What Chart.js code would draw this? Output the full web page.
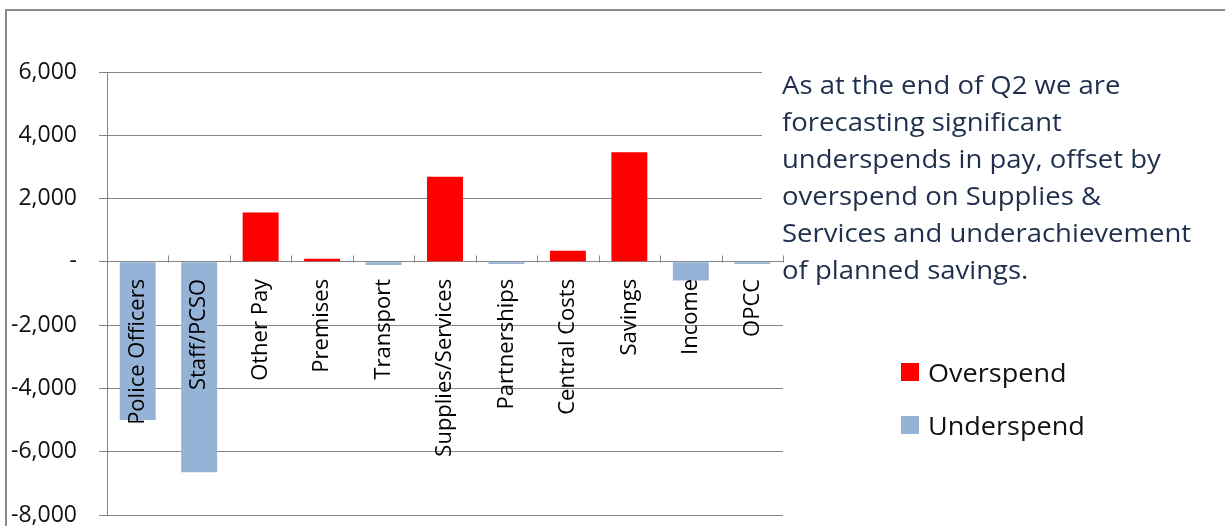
<!DOCTYPE html>
<html>
<head>
<meta charset="utf-8">
<script src="https://cdn.jsdelivr.net/npm/chart.js@4.4.1/dist/chart.umd.min.js"></script>
<style>
  html, body { margin: 0; padding: 0; background: #fff; }
  #wrap { position: relative; width: 1225px; height: 526px; overflow: hidden; }
  #frame { position: absolute; left: 5px; top: 9px; width: 1300px; height: 600px; border: 2px solid #8a8a8a; box-sizing: border-box; }
  canvas { position: absolute; left: 0; top: 0; }
  #note {
    position: absolute; left: 762px; top: 60px; width: 460px; height: 180px;
    padding-left: 20px; background: #fff; box-sizing: border-box;
    font-family: "Open Sans", sans-serif; font-size: 25px; line-height: 37px;
    color: #1f2f4d; white-space: nowrap;
  }
  #note .txt { position: relative; top: 6px; transform: scaleX(1.1); transform-origin: left top; }
  #legend { position: absolute; left: 901px; top: 355px; font-family: "Open Sans", sans-serif; font-size: 26px; color: #111; }
  #legend .item { display: flex; align-items: center; height: 34px; margin-bottom: 19px; }
  #legend .box { width: 18px; height: 18px; margin-right: 9px; }
  #legend .lbl { display: inline-block; transform: scaleX(1.04); transform-origin: left center; }
</style>
</head>
<body>
<div id="wrap">
  <div id="frame"></div>
  <canvas id="varianceChart" width="1225" height="526"></canvas>
  <div id="note"><div class="txt">As at the end of Q2 we are<br>forecasting significant<br>underspends in pay, offset by<br>overspend on Supplies &amp;<br>Services and underachievement<br>of planned savings.</div></div>
  <div id="legend"></div>
</div>
<script>
const categories = ["Police Officers", "Staff/PCSO", "Other Pay", "Premises", "Transport",
    "Supplies/Services", "Partnerships", "Central Costs", "Savings", "Income", "OPCC"];
const overspend = [null, null, 1560, 100, null, 2690, null, 350, 3460, null, null];
const underspend = [-5000, -6650, null, null, -100, null, -70, null, null, -590, -70];
const yTicks = [-8000, -6000, -4000, -2000, 0, 2000, 4000, 6000];

const gridColor = "#868686";

// small upward tick marks between categories on the zero line
const zeroTicks = {
    id: "zeroTicks",
    afterDatasetsDraw(chart) {
        const x = chart.scales.x, y = chart.scales.y;
        const ctx = chart.ctx;
        const y0 = Math.round(y.getPixelForValue(0)) + 0.5;
        const step = x.getPixelForValue(1) - x.getPixelForValue(0);
        ctx.save();
        ctx.strokeStyle = gridColor;
        ctx.lineWidth = 1;
        ctx.beginPath();
        for (let i = 0; i < categories.length; i++) {
            const px = Math.round(x.getPixelForValue(i) + step / 2) + 0.5;
            ctx.moveTo(px, y0);
            ctx.lineTo(px, y0 - 7);
        }
        ctx.stroke();
        ctx.restore();
    }
};

const ctx = document.getElementById("varianceChart").getContext("2d");

const chart = new Chart(ctx, {
    type: "bar",
    data: {
        labels: categories,
        datasets: [
            { label: "Overspend", data: overspend, backgroundColor: "#ff0000" },
            { label: "Underspend", data: underspend, backgroundColor: "#95b3d7" }
        ]
    },
    options: {
        responsive: false,
        animation: false,
        events: [],
        layout: { padding: { left: 0, top: 72, right: 442, bottom: 11 } },
        datasets: { bar: { barPercentage: 0.585, categoryPercentage: 1 } },
        plugins: {
            legend: { display: false },
            tooltip: { enabled: false }
        },
        scales: {
            x: {
                stacked: true,
                position: { y: 0 },
                grid: { display: true, drawOnChartArea: false, drawTicks: false },
                border: { display: true, color: gridColor, width: 1 },
                ticks: {
                    z: 1,
                    autoSkip: false,
                    minRotation: 90,
                    maxRotation: 90,
                    padding: 17,
                    color: "#000",
                    font: { family: "'Open Sans', sans-serif", size: 22 }
                },
                afterFit: function (scale) {
                    scale.paddingLeft = 0;
                    scale.paddingRight = 0;
                }
            },
            y: {
                stacked: true,
                min: -8000,
                max: 6000,
                afterBuildTicks: function (scale) {
                    scale.ticks = yTicks.map(v => ({ value: v }));
                },
                grid: { color: gridColor, tickLength: 8 },
                border: { display: true, color: gridColor, width: 1 },
                ticks: {
                    padding: 22,
                    color: "#111",
                    font: { family: "'Open Sans', sans-serif", size: 23 },
                    callback: function (value) {
                        return value === 0 ? "-" : value.toLocaleString("en-US");
                    }
                },
                afterFit: function (scale) {
                    scale.width = 107;
                    scale.paddingTop = 0;
                    scale.paddingBottom = 0;
                }
            }
        }
    },
    plugins: [zeroTicks]
});

// html legend built from the chart datasets
const legendEl = document.getElementById("legend");
chart.data.datasets.forEach(ds => {
    const item = document.createElement("div");
    item.className = "item";
    const box = document.createElement("span");
    box.className = "box";
    box.style.background = ds.backgroundColor;
    const txt = document.createElement("span");
    txt.className = "lbl";
    txt.textContent = ds.label;
    item.appendChild(box);
    item.appendChild(txt);
    legendEl.appendChild(item);
});
</script>
</body>
</html>
